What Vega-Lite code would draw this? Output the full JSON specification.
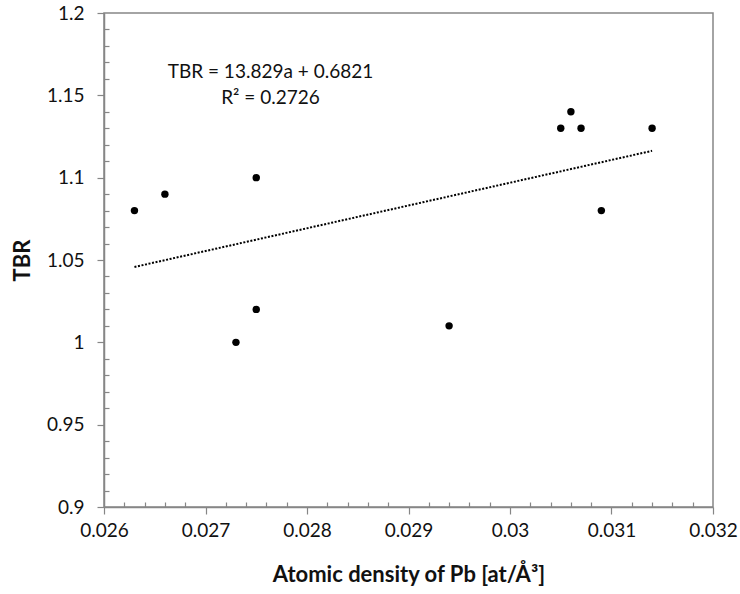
{
  "$schema": "https://vega.github.io/schema/vega-lite/v6.json",
  "autosize": {"type": "none"},
  "padding": {"left": 104, "top": 13, "right": 27, "bottom": 87},
  "width": 609,
  "height": 494,
  "background": "white",
  "config": {
    "view": {"stroke": "#868686", "strokeWidth": 1.5},
    "font": "Lato",
    "axis": {
      "domainColor": "#868686",
      "domainWidth": 1.5,
      "tickColor": "#868686",
      "tickWidth": 1.2,
      "grid": false,
      "labelFont": "Lato",
      "labelFontSize": 19,
      "labelColor": "#111111",
      "titleFont": "Lato",
      "titleFontSize": 22,
      "titleFontWeight": "bold",
      "titleColor": "#111111",
      "labelOverlap": false,
      "labelFlush": false
    }
  },
  "datasets": {
    "points": [
      {"density": 0.0263, "tbr": 1.08},
      {"density": 0.0266, "tbr": 1.09},
      {"density": 0.0273, "tbr": 1.00},
      {"density": 0.0275, "tbr": 1.10},
      {"density": 0.0275, "tbr": 1.02},
      {"density": 0.0294, "tbr": 1.01},
      {"density": 0.0305, "tbr": 1.13},
      {"density": 0.0306, "tbr": 1.14},
      {"density": 0.0307, "tbr": 1.13},
      {"density": 0.0309, "tbr": 1.08},
      {"density": 0.0314, "tbr": 1.13}
    ],
    "equation": [
      {"density": 0.02764, "tbr": 1.1643, "label": "TBR = 13.829a + 0.6821"},
      {"density": 0.02764, "tbr": 1.1486, "label": "R² = 0.2726"}
    ]
  },
  "resolve": {"axis": {"x": "independent", "y": "independent"}},
  "layer": [
    {
      "data": {"name": "points"},
      "mark": {"type": "circle", "size": 55, "color": "black", "opacity": 1},
      "encoding": {
        "x": {
          "field": "density", "type": "quantitative",
          "scale": {"domain": [0.026, 0.032], "nice": false, "zero": false},
          "axis": {
            "title": "Atomic density of Pb [at/Å³]",
            "orient": "bottom",
            "values": [0.026, 0.027, 0.028, 0.029, 0.03, 0.031, 0.032],
            "format": "~g",
            "tickSize": 7,
            "labelPadding": 7,
            "titlePadding": 24
          }
        },
        "y": {
          "field": "tbr", "type": "quantitative",
          "scale": {"domain": [0.9, 1.2], "nice": false, "zero": false},
          "axis": {
            "title": "TBR",
            "orient": "left",
            "values": [0.9, 0.95, 1.0, 1.05, 1.1, 1.15, 1.2],
            "format": "~g",
            "tickSize": 7,
            "labelPadding": 13,
            "titlePadding": 12
          }
        }
      }
    },
    {
      "data": {"name": "points"},
      "mark": {"type": "circle", "size": 55, "opacity": 0},
      "encoding": {
        "x": {
          "field": "density", "type": "quantitative",
          "axis": {
            "orient": "top",
            "offset": -494,
            "title": null,
            "labels": false,
            "domain": false,
            "tickSize": 5,
            "values": [0.0262, 0.0264, 0.0266, 0.0268, 0.0272, 0.0274, 0.0276, 0.0278, 0.0282, 0.0284, 0.0286, 0.0288, 0.0292, 0.0294, 0.0296, 0.0298, 0.0302, 0.0304, 0.0306, 0.0308, 0.0312, 0.0314, 0.0316, 0.0318]
          }
        },
        "y": {
          "field": "tbr", "type": "quantitative",
          "axis": {
            "orient": "right",
            "offset": -609,
            "title": null,
            "labels": false,
            "domain": false,
            "tickSize": 5,
            "values": [0.91, 0.92, 0.93, 0.94, 0.96, 0.97, 0.98, 0.99, 1.01, 1.02, 1.03, 1.04, 1.06, 1.07, 1.08, 1.09, 1.11, 1.12, 1.13, 1.14, 1.16, 1.17, 1.18, 1.19]
          }
        }
      }
    },
    {
      "data": {"name": "points"},
      "transform": [{"regression": "tbr", "on": "density", "method": "linear"}],
      "mark": {"type": "line", "color": "black", "strokeWidth": 2, "strokeDash": [2, 1.6], "strokeCap": "butt"},
      "encoding": {
        "x": {"field": "density", "type": "quantitative", "axis": null},
        "y": {"field": "tbr", "type": "quantitative", "axis": null}
      }
    },
    {
      "data": {"name": "equation"},
      "mark": {"type": "text", "font": "Lato", "fontSize": 19, "color": "#111111", "align": "center", "baseline": "middle"},
      "encoding": {
        "x": {"field": "density", "type": "quantitative", "axis": null},
        "y": {"field": "tbr", "type": "quantitative", "axis": null},
        "text": {"field": "label"}
      }
    }
  ]
}
